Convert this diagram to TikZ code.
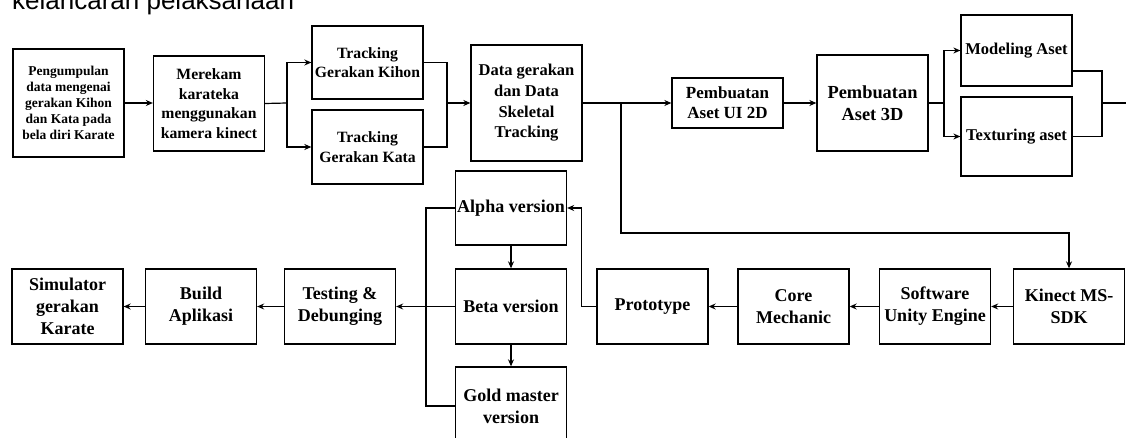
\documentclass[tikz,border=0pt]{standalone}
\usepackage{fontspec}
\setmainfont{Liberation Serif}
\newfontfamily\titlefont{Liberation Sans}
\usetikzlibrary{arrows.meta}
\begin{document}
\begin{tikzpicture}[x=1pt, y=-1pt,
    box/.style={draw, line width=1.3pt, minimum width=111pt, align=center, inner sep=1pt},
    small/.style={font=\bfseries\fontsize{13.5}{16}\selectfont},
    mid/.style={font=\bfseries\fontsize{15.7}{19.5}\selectfont},
    big/.style={font=\bfseries\fontsize{16.5}{20.7}\selectfont},
    large/.style={font=\bfseries\fontsize{18}{22}\selectfont},
    arr/.style={-{Stealth[length=7pt,width=6pt]}, line width=1.2pt},
    line/.style={line width=1.2pt}]
    \useasboundingbox (0,0) rectangle (1126,438);
    % heading, cut off at the top
    \node[anchor=base west, inner sep=0, font=\titlefont\fontsize{26}{30}\selectfont] (title) at (12,9.5) {kelancaran pelaksanaan};
    % top row
    \node[box, small, minimum height=108pt] (pengumpulan) at (68.5,103) {Pengumpulan\\data mengenai\\gerakan Kihon\\dan Kata pada\\bela diri Karate};
    \node[box, mid, minimum height=95pt] (merekam) at (209,103.5) {Merekam\\karateka\\menggunakan\\kamera kinect};
    \node[box, mid, minimum height=73pt] (kihon) at (367.5,62.5) {Tracking\\Gerakan Kihon};
    \node[box, mid, minimum height=74pt] (kata) at (367.5,147) {Tracking\\Gerakan Kata};
    \node[box, big, minimum height=116pt] (data) at (526.5,103) {Data gerakan\\dan Data\\Skeletal\\Tracking};
    \node[box, font=\bfseries\fontsize{17}{20}\selectfont, minimum height=50pt] (ui2d) at (727.5,103) {Pembuatan\\Aset UI 2D};
    \node[box, font=\bfseries\fontsize{18.4}{21.7}\selectfont, minimum height=96pt] (aset3d) at (872.5,103) {Pembuatan\\Aset 3D};
    \node[box, big, minimum height=71pt] (modeling) at (1016.5,50.5) {Modeling Aset};
    \node[box, big, minimum height=79pt] (texturing) at (1016.5,136.5) {Texturing aset};
    % bottom row
    \node[box, large, minimum height=75pt] (simulator) at (67.5,306.5) {Simulator\\gerakan\\Karate};
    \node[box, large, minimum height=75pt] (build) at (201,306.5) {Build\\Aplikasi};
    \node[box, large, minimum height=75pt] (testing) at (340,306.5) {Testing \&\\Debunging};
    \node[box, large, minimum height=74pt] (alpha) at (511,208) {Alpha version};
    \node[box, large, minimum height=75pt] (beta) at (511,306.5) {Beta version};
    \node[box, large, minimum height=78pt] (gold) at (511,406) {Gold master\\version};
    \node[box, large, minimum height=75pt] (prototype) at (652.5,306.5) {Prototype};
    \node[box, large, minimum height=75pt] (core) at (793.5,306.5) {Core\\Mechanic};
    \node[box, large, minimum height=75pt] (unity) at (935,306.5) {Software\\Unity Engine};
    \node[box, large, minimum height=75pt] (kinect) at (1069,306.5) {Kinect MS-\\SDK};
    % branch points
    \coordinate (fork1) at (287,103);
    \coordinate (join1) at (447,103);
    \coordinate (split) at (621,103);
    \coordinate (bend) at (621,233);
    \coordinate (fork2) at (944,103);
    \coordinate (join2) at (1102,103);
    \coordinate (exit) at (1130,103);
    \coordinate (merge) at (426,306.5);
    % top connectors
    \draw[arr] (pengumpulan.east) -- (pengumpulan.east -| merekam.west);
    \draw[line] (merekam.east) -- (fork1);
    \draw[arr] (fork1) |- (kihon.west);
    \draw[arr] (fork1) |- (kata.west);
    \draw[line] (kihon.east) -| (join1);
    \draw[line] (kata.east) -| (join1);
    \draw[arr] (join1) -- (data.west);
    \draw[arr] (data.east) -- (ui2d.west);
    \draw[arr] (ui2d.east) -- (aset3d.west);
    \draw[line] (aset3d.east) -- (fork2);
    \draw[arr] (fork2) |- (modeling.west);
    \draw[arr] (fork2) |- (texturing.west);
    \draw[line] ([yshift=-20.5pt]modeling.east) -| (join2);
    \draw[line] (texturing.east) -| (join2) -- (exit);
    % down to the kinect
    \draw[arr] (split) -- (bend) -| (kinect.north);
    % bottom connectors
    \draw[arr] (kinect.west) -- (unity.east);
    \draw[arr] (unity.west) -- (core.east);
    \draw[arr] (core.west) -- (prototype.east);
    \draw[arr] (prototype.west) -- ++(-15,0) |- (alpha.east);
    \draw[arr] (alpha.south) -- (beta.north);
    \draw[arr] (beta.south) -- (gold.north);
    \draw[line] (alpha.west) -| (merge);
    \draw[line] (gold.west) -| (merge);
    \draw[arr] (beta.west) -- (testing.east);
    \draw[arr] (testing.west) -- (build.east);
    \draw[arr] (build.west) -- (simulator.east);
\end{tikzpicture}
\end{document}
